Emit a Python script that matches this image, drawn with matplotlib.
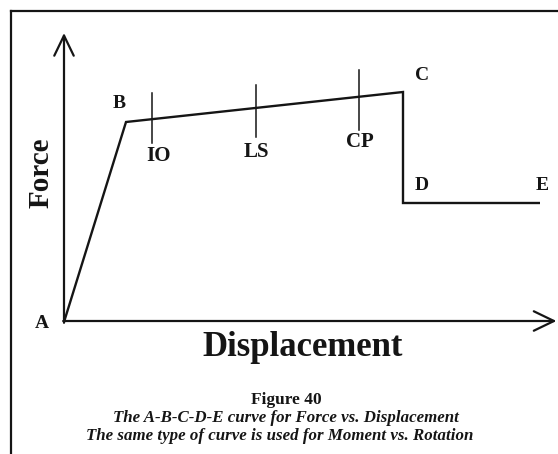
import matplotlib
matplotlib.use("Agg")
import matplotlib.pyplot as plt
from matplotlib.lines import Line2D

# Curve data (arbitrary units)
points = ["A", "B", "C", "D", "E"]
displacement = [0.0, 0.62, 3.39, 3.39, 4.76]
force = [0.0, 2.00, 2.30, 1.19, 1.19]

# Performance level markers
levels = ["IO", "LS", "CP"]
level_x = [0.877, 1.92, 2.95]
level_top = [2.29, 2.37, 2.52]
level_bottom = [1.79, 1.85, 1.92]

serif = ["Liberation Serif", "DejaVu Serif"]
ink = "#151515"

fig = plt.figure(figsize=(5.58, 4.54), dpi=100)
ax = fig.add_axes([0, 0, 1, 1])
ax.set_xlim(-0.64, 4.94)
ax.set_ylim(-1.32, 3.22)
ax.axis("off")

# Frame (top and left borders of the scanned figure)
fig.add_artist(Line2D([11/558, 1.0], [1-11/454, 1-11/454], color=ink, lw=1.6))
fig.add_artist(Line2D([11/558, 11/558], [0, 1-11/454], color=ink, lw=1.6))

# Axes arrows
arrow = dict(arrowstyle="->,head_length=1.45,head_width=0.7", lw=1.6, color=ink,
             shrinkA=0, shrinkB=0)
ax.annotate("", xy=(0, 2.89), xytext=(0, -0.008), arrowprops=arrow)
ax.annotate("", xy=(4.925, 0.01), xytext=(-0.008, 0.01), arrowprops=arrow)

# Curve
ax.plot(displacement, force, color=ink, lw=1.7, solid_joinstyle="miter", solid_capstyle="butt")

# Point labels
offsets = {"A": (-0.22, -0.01), "B": (-0.07, 0.18), "C": (0.19, 0.16), "D": (0.19, 0.18), "E": (0.02, 0.17)}
for p, x, y in zip(points, displacement, force):
    dx, dy = offsets[p]
    ax.text(x + dx, y + dy, p, fontsize=14, fontweight="bold", family=serif,
            color=ink, ha="center", va="center")

# Performance markers
label_dx = {"IO": 0.07, "LS": 0.0, "CP": 0.01}
label_dy = {"IO": -0.13, "LS": -0.15, "CP": -0.12}
for lab, x, top, bot in zip(levels, level_x, level_top, level_bottom):
    ax.plot([x, x], [bot, top], color=ink, lw=1.1)
    ax.text(x + label_dx[lab], bot + label_dy[lab], lab, fontsize=15, fontweight="bold",
            family=serif, color=ink, ha="center", va="center")

# Axis titles
ax.text(-0.23, 1.49, "Force", rotation=90, fontsize=21, fontweight="bold", family=serif,
        color=ink, ha="center", va="center")
ax.text(2.39, -0.25, "Displacement", fontsize=25, fontweight="bold", family=serif,
        color=ink, ha="center", va="center")

# Caption
cx = 286/558
fig.text(cx, 1-400/454, "Figure 40", fontsize=12.5, fontweight="bold", family=serif,
         color=ink, ha="center", va="center")
fig.text(cx, 1-418/454, "The A-B-C-D-E curve for Force vs. Displacement", fontsize=12.2,
         style="italic", fontweight="bold", family=serif, color=ink, ha="center", va="center")
fig.text(cx - 6/558, 1-436/454, "The same type of curve is used for Moment vs. Rotation", fontsize=12.2,
         style="italic", fontweight="bold", family=serif, color=ink, ha="center", va="center")

fig.savefig("out.png", dpi=100, facecolor="white")
